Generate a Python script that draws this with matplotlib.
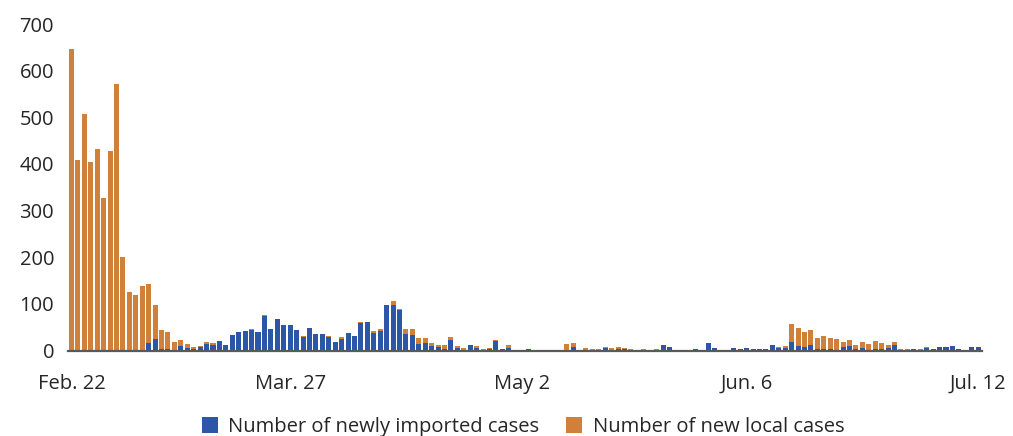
import matplotlib
matplotlib.use("Agg")
import matplotlib.pyplot as plt
from matplotlib.patches import Patch
import numpy as np
import pandas as pd

# Daily data, Feb. 22 - Jul. 12
start_date = "2020-02-22"
end_date = "2020-07-12"

total_cases = [
    647, 409, 508, 405, 433, 328, 427, 572, 201, 126,
    120, 139, 143, 98, 44, 40, 19, 23, 13, 7,
    9, 18, 16, 20, 11, 33, 40, 42, 46, 40,
    76, 46, 68, 55, 55, 44, 31, 48, 36, 36,
    31, 18, 29, 38, 31, 61, 61, 42, 46, 98,
    106, 89, 46, 46, 27, 27, 16, 12, 12, 29,
    10, 6, 12, 10, 4, 6, 22, 3, 11, 1,
    1, 3, 1, 1, 1, 1, 1, 14, 16, 1,
    5, 3, 3, 7, 5, 7, 5, 3, 1, 3,
    0, 3, 12, 8, 1, 1, 0, 3, 1, 16,
    5, 1, 1, 5, 3, 5, 3, 3, 3, 12,
    8, 10, 57, 49, 40, 44, 27, 31, 27, 25,
    18, 22, 11, 18, 14, 20, 16, 11, 18, 3,
    3, 3, 3, 7, 3, 7, 7, 10, 3, 1,
    7, 7,
]
imported_cases = [
    0, 0, 0, 0, 0, 0, 0, 0, 0, 0,
    0, 0, 16, 25, 3, 3, 1, 9, 5, 3,
    7, 15, 11, 20, 11, 33, 40, 42, 44, 40,
    74, 46, 68, 55, 55, 44, 29, 48, 36, 36,
    29, 18, 25, 38, 31, 59, 61, 38, 42, 98,
    98, 87, 36, 33, 15, 16, 10, 8, 4, 23,
    6, 1, 12, 6, 1, 3, 20, 3, 5, 1,
    1, 3, 1, 1, 1, 0, 1, 1, 7, 1,
    1, 0, 0, 5, 1, 3, 3, 1, 1, 1,
    0, 0, 12, 8, 1, 1, 0, 3, 1, 16,
    5, 1, 1, 5, 3, 5, 3, 3, 3, 12,
    5, 5, 19, 10, 8, 12, 3, 3, 3, 1,
    7, 10, 3, 5, 1, 3, 3, 5, 11, 1,
    1, 3, 1, 5, 3, 7, 7, 10, 3, 1,
    7, 7,
]
local_cases = [t - i for t, i in zip(total_cases, imported_cases)]

tick_dates = ["2020-02-22", "2020-03-27", "2020-05-02", "2020-06-06", "2020-07-12"]
tick_labels = ["Feb. 22", "Mar. 27", "May 2", "Jun. 6", "Jul. 12"]
y_ticks = [0, 100, 200, 300, 400, 500, 600, 700]

series_names = ["Number of newly imported cases", "Number of new local cases"]
blue = "#2C57A6"
orange = "#D1803A"
text_color = "#262626"

dates = pd.date_range(start_date, end_date)
x = np.arange(len(dates))
tick_pos = [dates.get_loc(pd.Timestamp(d)) for d in tick_dates]

plt.rcParams["font.family"] = ["Open Sans", "DejaVu Sans"]

W, H = 1013, 436
fig = plt.figure(figsize=(W / 100, H / 100), dpi=100)
ax = fig.add_axes([68 / W, 1 - 350.5 / H, 914 / W, (350.5 - 24) / H])

ax.bar(x, imported_cases, width=0.78, color=blue, zorder=2)
ax.bar(x, local_cases, width=0.78, bottom=imported_cases, color=orange, zorder=2)

ax.set_xlim(-0.55, len(x) - 1 + 0.6)
ax.set_ylim(0, 700)
ax.set_yticks(y_ticks)
ax.set_xticks(tick_pos)
ax.set_xticklabels(tick_labels)

for s in ["top", "right", "left"]:
    ax.spines[s].set_visible(False)
ax.spines["bottom"].set_color("#595959")
ax.spines["bottom"].set_linewidth(1.6)
ax.spines["bottom"].set_zorder(3)

ax.tick_params(axis="y", length=0, pad=10, labelsize=14.5, labelcolor=text_color)
ax.tick_params(axis="x", length=0, pad=17, labelsize=14.5, labelcolor=text_color)

handles = [Patch(facecolor=blue, edgecolor="none"), Patch(facecolor=orange, edgecolor="none")]
fig.legend(handles, series_names, loc="center", bbox_to_anchor=(523 / W, 9 / H),
           ncol=2, frameon=False, fontsize=14.5, labelcolor=text_color,
           handlelength=0.8, handleheight=0.8, handletextpad=0.5, columnspacing=1.35,
           borderaxespad=0, borderpad=0)

fig.savefig("out.png", dpi=100)
